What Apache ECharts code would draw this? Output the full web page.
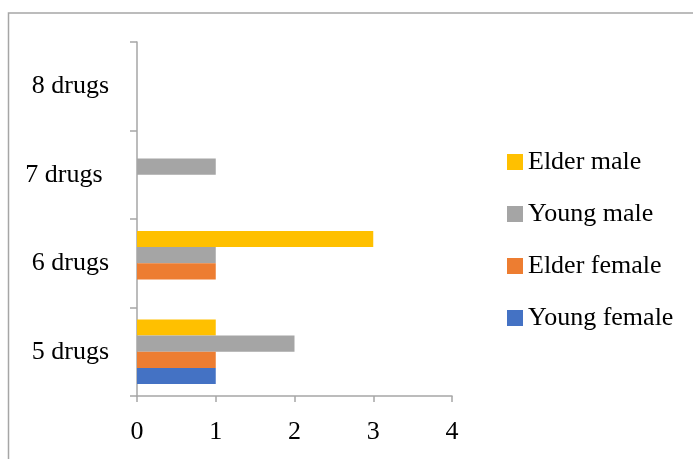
<!DOCTYPE html>
<html>
<head>
<meta charset="utf-8">
<script src="https://cdn.jsdelivr.net/npm/echarts@6/dist/echarts.min.js"></script>
<style>
html, body { margin: 0; padding: 0; background: #fff; }
#chart { width: 693px; height: 459px; }
</style>
</head>
<body>
<div id="chart"></div>
<script>
const categories = ['5 drugs', '6 drugs', '7 drugs ', '8 drugs'];
const youngFemale = [1, 0, 0, 0];
const elderFemale = [1, 1, 0, 0];
const youngMale = [2, 1, 1, 0];
const elderMale = [1, 3, 0, 0];
const xTicks = [0, 1, 2, 3, 4];

const font = 'Liberation Serif';
const axisGray = '#a6a6a6';

function bar(name, data, color) {
    return {
        name: name,
        type: 'bar',
        data: data,
        barGap: '0%',
        barCategoryGap: '27%',
        itemStyle: { color: color }
    };
}

const chart = echarts.init(document.getElementById('chart'));
chart.setOption({
    animation: false,
    textStyle: { fontFamily: font },
    graphic: [{
        type: 'rect',
        shape: { x: 8.5, y: 13, width: 700, height: 460 },
        style: { fill: 'none', stroke: axisGray, lineWidth: 1.5 },
        silent: true
    }],
    grid: { left: 137, right: 241, top: 42, bottom: 63 },
    legend: {
        orient: 'vertical',
        left: 502,
        top: 144,
        itemWidth: 16,
        itemHeight: 16,
        itemGap: 26,
        icon: 'rect',
        data: ['Elder male', 'Young male', 'Elder female', 'Young female'],
        textStyle: { fontFamily: font, fontSize: 26, color: '#000', lineHeight: 26 }
    },
    xAxis: {
        type: 'value',
        min: 0,
        max: 4,
        interval: 1,
        splitLine: { show: false },
        axisLine: { show: true, lineStyle: { color: axisGray, width: 1.5 } },
        axisTick: { show: true, length: 6, lineStyle: { color: axisGray, width: 1.5 } },
        axisLabel: {
            margin: 23,
            fontFamily: font,
            fontSize: 26,
            color: '#000',
            formatter: function (v) { return xTicks.indexOf(v) >= 0 ? String(v) : ''; }
        }
    },
    yAxis: {
        type: 'category',
        data: categories,
        axisLine: { show: true, lineStyle: { color: axisGray, width: 1.5 } },
        axisTick: { show: true, length: 7, lineStyle: { color: axisGray, width: 1.5 } },
        axisLabel: { margin: 28, fontFamily: font, fontSize: 26, color: '#000' }
    },
    // first series is drawn at the top of each band
    series: [
        bar('Elder male', elderMale, '#FFC000'),
        bar('Young male', youngMale, '#A5A5A5'),
        bar('Elder female', elderFemale, '#ED7D31'),
        bar('Young female', youngFemale, '#4472C4')
    ]
});
</script>
</body>
</html>
